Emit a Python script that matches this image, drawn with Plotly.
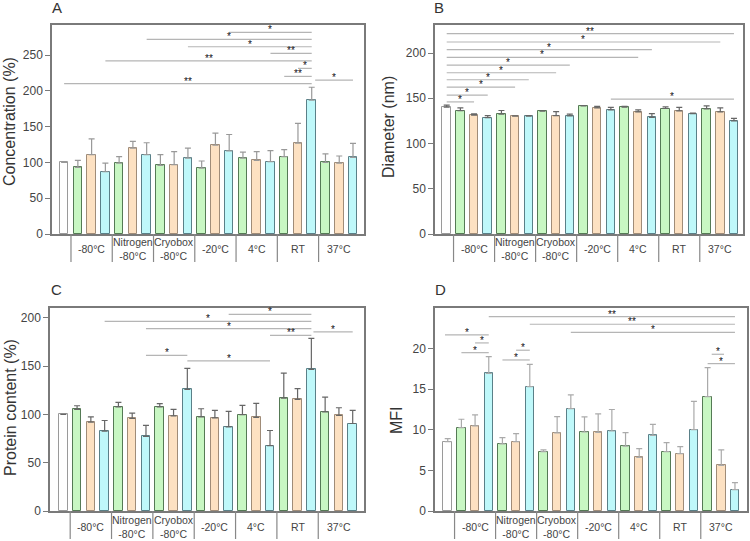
import plotly.graph_objects as go

W, H = 750, 541

# ---- data ----
GROUPS = ["-80°C", "Nitrogen<br>-80°C", "Cryobox<br>-80°C", "-20°C", "4°C", "RT", "37°C"]

CONC = [100, 93, 111, 87, 99, 120, 111, 96, 97, 106, 92, 124, 116, 106, 103, 101,
        108, 127, 187, 100, 99, 107]
CONC_ERR = [0, 10, 22, 12, 9, 9.5, 16.5, 15, 18, 14, 10, 17, 23, 8.5, 12, 15.5,
            10, 27.5, 18, 12, 10, 19.5]

DIAM = [140.2, 136.3, 131.3, 128.6, 132.5, 130.3, 130.3, 135.8, 130.9, 130.6, 141.7,
        139.5, 137.3, 140.2, 135, 129, 138.7, 136, 133.1, 138.4, 134.9, 125.1]
DIAM_ERR = [2.2, 3, 1.4, 2.2, 4, 0.3, 0.7, 0.4, 4.4, 1.9, 0.3, 1.5, 2.6, 0.8, 2.3,
            4, 1.9, 4, 0.4, 3.3, 4.5, 2.6]

PROT = [100, 105.1, 92, 82.6, 107.8, 95.7, 77.1, 107.8, 98.5, 125.8, 97.4, 96.4,
        87.1, 99.7, 96.8, 67.7, 116.8, 115.4, 146.5, 102.6, 98.8, 90.5]
PROT_ERR = [0, 3.8, 5.3, 11, 4.6, 5.6, 11.4, 3.2, 6.6, 21.8, 8.4, 7.6, 15.9, 9.6,
            14.6, 15.6, 25.9, 11.1, 32.1, 15.2, 8, 13.5]

MFI = [8.55, 10.27, 10.48, 16.96, 8.26, 8.55, 15.31, 7.31, 9.61, 12.6, 9.73, 9.69,
       9.85, 8.0, 6.6, 9.32, 7.31, 7.06, 10.02, 14.08, 5.62, 2.63]
MFI_ERR = [0.37, 1.03, 1.35, 2.04, 0.78, 0.98, 2.75, 0.21, 2.01, 1.7, 1.85, 2.26,
           2.65, 1.64, 1.08, 1.35, 1.11, 0.87, 3.49, 3.57, 1.9, 0.86]

# significance brackets: (from bar, to bar, level, label)
SIG_A = [(12, 18, 281.7, "*"), (6, 18, 271.9, "*"), (9, 18, 261.6, "*"),
         (15, 18, 252.3, "**"), (3, 18, 242, "**"), (17, 18, 231.4, "*"),
         (16, 18, 220.2, "**"), (0, 18, 210, "**"), (18.25, 21, 215, "*")]
SIG_B = [(0, 21, 221.4, "**"), (0, 20, 212.2, "*"), (0, 15, 203.7, "*"),
         (0, 14, 195.2, "*"), (0, 9, 186.7, "*"), (0, 8, 178.2, "*"),
         (0, 6, 170.5, "*"), (0, 5, 162.4, "*"), (0, 3, 153.5, "*"),
         (0, 2, 146, "*"), (12, 21, 149, "*")]
SIG_C = [(12, 18, 203.5, "*"), (3, 18, 196.2, "*"), (6, 18, 188.6, "*"),
         (15, 18, 181.7, "**"), (18.15, 21, 185.2, "*"), (6, 9, 161, "*"),
         (9, 15, 155.4, "*")]
SIG_D = [(3, 21, 23.94, "**"), (6, 21, 23.0, "**"), (9, 21, 22.0, "*"),
         (-0.2, 3, 21.7, "*"), (2, 3, 20.7, "*"), (1, 3, 19.5, "*"),
         (5, 6, 19.8, "*"), (4, 6, 18.6, "*"), (19.3, 20.2, 19.3, "*"),
         (19, 21, 18.15, "*")]

FONT = "Liberation Sans, Arial, sans-serif"
FILLS = ["#ffffff"] + ["#c8f7c3", "#fde1c2", "#bff8fa"] * 7
EDGES = ["#9a9a9a"] + ["#557a55", "#a08c78", "#5a8088"] * 7


def px(x):
    return x / W


def py(y):
    return 1 - y / H


# panel geometry in window pixels: left, right, top, bottom
panels = [
    dict(letter="A", vals=CONC, err=CONC_ERR, sig=SIG_A, title="Concentration (%)",
         box=(52, 364, 25, 234), xr=[-0.88, 21.8], yr=[0, 292], tv=list(range(0, 251, 50)),
         ecol="#999999", tx=10, ty=122, lx=57, ly=8),
    dict(letter="B", vals=DIAM, err=DIAM_ERR, sig=SIG_B, title="Diameter (nm)",
         box=(435, 743, 25, 234), xr=[-0.855, 21.66], yr=[0, 231], tv=list(range(0, 201, 50)),
         ecol="#666666", tx=389, ty=127, lx=439, ly=8),
    dict(letter="C", vals=PROT, err=PROT_ERR, sig=SIG_C, title="Protein content (%)",
         box=(50, 364, 308, 511), xr=[-0.965, 21.82], yr=[0, 210], tv=list(range(0, 201, 50)),
         ecol="#666666", tx=10, ty=408, lx=56, ly=289),
    dict(letter="D", vals=MFI, err=MFI_ERR, sig=SIG_D, title="MFI",
         box=(435, 747, 308, 511), xr=[-0.93, 21.88], yr=[0, 25], tv=list(range(0, 21, 5)),
         ecol="#aaaaaa", tx=397, ty=420, lx=440, ly=289),
]

fig = go.Figure()
layout = dict(width=W, height=H, margin=dict(l=0, r=0, t=0, b=0),
              paper_bgcolor="white", plot_bgcolor="white", showlegend=False,
              font=dict(family=FONT, color="#333333"), bargap=0)
shapes = []
annotations = []
idx = list(range(22))

for k, p in enumerate(panels):
    n = "" if k == 0 else str(k + 1)
    l, r, t, b = p["box"]
    fig.add_trace(go.Bar(
        x=idx, y=p["vals"], width=0.62,
        marker=dict(color=FILLS, line=dict(color=EDGES, width=1)),
        error_y=dict(type="data", symmetric=False, array=p["err"], arrayminus=[0] * 22,
                     color=p["ecol"], thickness=1.2, width=3),
        xaxis="x" + n, yaxis="y" + n, hoverinfo="skip"))
    layout["xaxis" + n] = dict(domain=[px(l), px(r)], range=p["xr"], anchor="y" + n,
                               showline=True, mirror=True, linecolor="#7a7a7a", linewidth=1.5,
                               showticklabels=False, ticks="", showgrid=False, zeroline=False)
    layout["yaxis" + n] = dict(domain=[py(b), py(t)], range=p["yr"], anchor="x" + n,
                               tickvals=p["tv"], ticks="outside", ticklen=5, tickcolor="#7a7a7a",
                               showline=True, mirror=True, linecolor="#7a7a7a", linewidth=1.5,
                               showgrid=False, zeroline=False, automargin=False,
                               tickfont=dict(size=12, color="#444444"))
    # group separators and labels under the axis
    for g, name in enumerate(GROUPS):
        shapes.append(dict(type="line", xref="x" + n, yref="paper",
                           x0=3 * g + 0.5, x1=3 * g + 0.5, y0=py(b), y1=py(b + 28),
                           line=dict(color="#888888", width=1.2)))
        annotations.append(dict(xref="x" + n, yref="paper", x=3 * g + 2, y=py(b + 15.5),
                                text=name, showarrow=False, yanchor="middle",
                                font=dict(size=10.5, color="#444444")))
    # significance brackets
    for x0, x1, lev, lab in p["sig"]:
        shapes.append(dict(type="line", xref="x" + n, yref="y" + n, x0=x0, x1=x1,
                           y0=lev, y1=lev, line=dict(color="#b5b5b5", width=1.2)))
        annotations.append(dict(xref="x" + n, yref="y" + n, x=(x0 + x1) / 2, y=lev,
                                text=lab, showarrow=False, yanchor="bottom", yshift=-5,
                                font=dict(size=10, color="#111111")))
    annotations.append(dict(xref="paper", yref="paper", x=px(p["tx"]), y=py(p["ty"]),
                            text=p["title"], textangle=-90, showarrow=False,
                            xanchor="center", yanchor="middle",
                            font=dict(size=16, color="#333333")))
    annotations.append(dict(xref="paper", yref="paper", x=px(p["lx"]), y=py(p["ly"]),
                            text=p["letter"], showarrow=False,
                            xanchor="center", yanchor="middle",
                            font=dict(size=15, color="#333333")))

layout["shapes"] = shapes
layout["annotations"] = annotations
fig.update_layout(**layout)
# drop the browser's default 8px body margin so the 750x541 figure fills the window
fig.write_html("out.html", config={"displayModeBar": False},
               post_script="document.body.style.margin = '0';")
